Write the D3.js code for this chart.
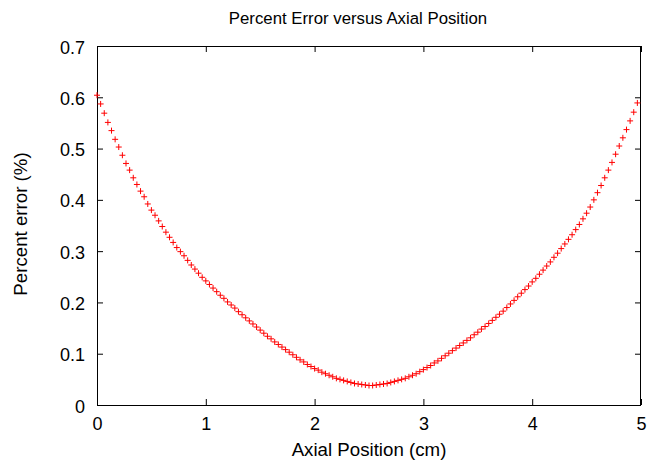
<!DOCTYPE html>
<html>
<head>
<meta charset="utf-8">
<script src="https://cdn.jsdelivr.net/npm/d3@7"></script>
<style>
  html, body { margin: 0; padding: 0; background: #fff; }
  svg { display: block; }
  text { font-family: "Liberation Sans", Arial, sans-serif; fill: #000; }
</style>
</head>
<body>
<svg id="chart" width="647" height="466"></svg>
<script>
// ---- data ----
const title = "Percent Error versus Axial Position";
const xLabel = "Axial Position (cm)";
const yLabel = "Percent error (%)";
const xTicks = [0, 1, 2, 3, 4, 5];
const yTicks = [0, 0.1, 0.2, 0.3, 0.4, 0.5, 0.6, 0.7];
const xStep = 1 / 30; // spacing of the positions along the axis
const percentError = [
  0.604, 0.587, 0.569, 0.551, 0.535, 0.518, 0.503, 0.487, 0.471, 0.458,
  0.443, 0.430, 0.417, 0.406, 0.392, 0.380, 0.370, 0.359, 0.348, 0.337,
  0.327, 0.317, 0.307, 0.299, 0.291, 0.282, 0.273, 0.265, 0.257, 0.249,
  0.242, 0.235, 0.228, 0.221, 0.214, 0.208, 0.201, 0.195, 0.189, 0.182,
  0.176, 0.170, 0.164, 0.158, 0.152, 0.146, 0.140, 0.134, 0.129, 0.123,
  0.118, 0.113, 0.108, 0.103, 0.098, 0.093, 0.088, 0.084, 0.079, 0.075,
  0.071, 0.068, 0.064, 0.061, 0.058, 0.055, 0.052, 0.050, 0.048, 0.046,
  0.044, 0.042, 0.041, 0.040, 0.039, 0.038, 0.038, 0.039, 0.040, 0.041,
  0.042, 0.044, 0.046, 0.048, 0.050, 0.052, 0.055, 0.058, 0.061, 0.065,
  0.069, 0.073, 0.077, 0.082, 0.086, 0.091, 0.096, 0.101, 0.106, 0.111,
  0.116, 0.121, 0.126, 0.131, 0.137, 0.142, 0.148, 0.153, 0.159, 0.165,
  0.171, 0.177, 0.183, 0.190, 0.197, 0.204, 0.211, 0.218, 0.225, 0.232,
  0.240, 0.247, 0.255, 0.263, 0.271, 0.279, 0.288, 0.296, 0.305, 0.314,
  0.323, 0.332, 0.342, 0.352, 0.363, 0.374, 0.386, 0.400, 0.414, 0.428,
  0.443, 0.458, 0.473, 0.489, 0.505, 0.521, 0.537, 0.554, 0.571, 0.589
];
const positions = percentError.map((_, i) => i * xStep);

// ---- layout ----
const L = 97, R = 641, T = 46, B = 405;
const svg = d3.select("#chart");

const x = d3.scaleLinear().domain([0, 5]).range([L, R]);
const y = d3.scaleLinear().domain([0, 0.7]).range([B, T]);

const tickLen = 6;
const tickFont = 18;

// bottom axis ticks + labels
const gx = svg.append("g").attr("transform", `translate(0,${B})`)
  .call(d3.axisBottom(x).tickValues(xTicks).tickFormat(d3.format("d")).tickSize(-tickLen).tickPadding(12));
// top mirrored ticks
const gxt = svg.append("g").attr("transform", `translate(0,${T})`)
  .call(d3.axisTop(x).tickValues(xTicks).tickFormat("").tickSize(-tickLen));
// left axis
const gy = svg.append("g").attr("transform", `translate(${L},0)`)
  .call(d3.axisLeft(y).tickValues(yTicks).tickFormat(d => d === 0 ? "0" : d3.format(".1f")(d)).tickSize(-tickLen).tickPadding(12));
// right mirrored ticks
const gyr = svg.append("g").attr("transform", `translate(${R},0)`)
  .call(d3.axisRight(y).tickValues(yTicks).tickFormat("").tickSize(-tickLen));

[gx, gxt, gy, gyr].forEach(g => {
  g.select(".domain").remove();
  g.selectAll(".tick line").attr("stroke", "#000").attr("stroke-width", 1);
  g.selectAll(".tick text").attr("font-size", tickFont)
    .attr("font-family", "Liberation Sans, Arial, sans-serif").attr("fill", "#000");
});
// fine placement of tick labels
gx.selectAll(".tick text").attr("dy", null).attr("y", 25);
gy.selectAll(".tick text").attr("dy", null).attr("y", 7).attr("x", -12);

// border
svg.append("rect")
  .attr("x", L + 0.5).attr("y", T + 0.5)
  .attr("width", R - L - 1).attr("height", B - T)
  .attr("fill", "none").attr("stroke", "#000").attr("stroke-width", 1);

// points as "+" markers
const s = 3;
svg.append("g").selectAll("path")
  .data(positions.map((p, i) => [p, percentError[i]]))
  .join("path")
  .attr("d", d => {
    const px = x(d[0]), py = y(d[1]);
    return `M${px - s},${py}H${px + s}M${px},${py - s}V${py + s}`;
  })
  .attr("stroke", "#ff0000")
  .attr("stroke-width", 1)
  .attr("fill", "none");

// titles
svg.append("text").attr("x", 358).attr("y", 24).attr("text-anchor", "middle")
  .attr("font-size", 16.8).text(title);
svg.append("text").attr("x", 369).attr("y", 456).attr("text-anchor", "middle")
  .attr("font-size", 18.7).text(xLabel);
svg.append("text").attr("transform", "translate(27,224) rotate(-90)")
  .attr("text-anchor", "middle").attr("font-size", 18.7).text(yLabel);
</script>
</body>
</html>
